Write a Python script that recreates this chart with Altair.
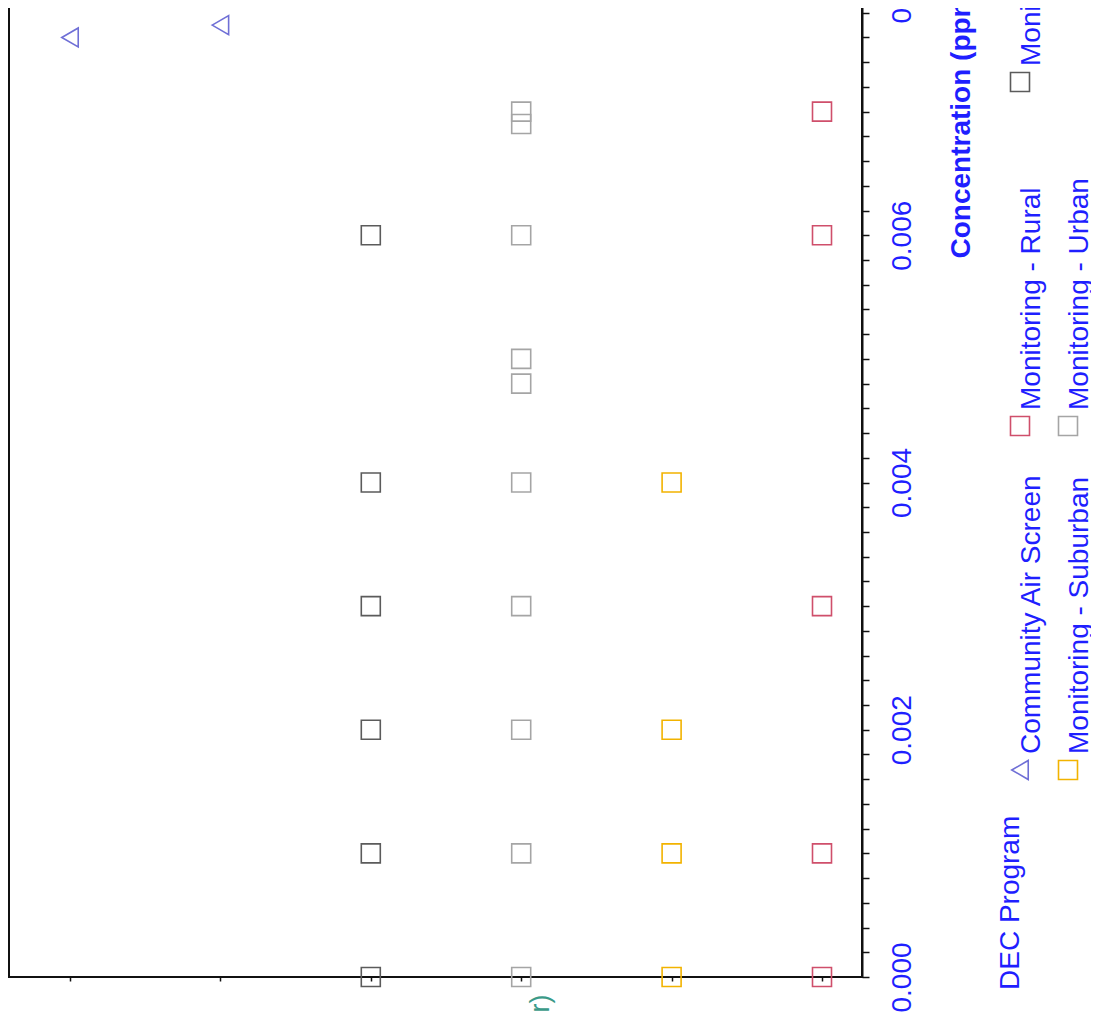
import altair as alt
import pandas as pd

# ---- data ----
sites = ["Site 1", "Site 2", "Site 3", "Site 4", "Site 5", "Site 6"]
programs = ["Community Air Screen", "Monitoring - Rural", "Monitoring - Source",
            "Monitoring - Suburban", "Monitoring - Urban"]
program_colors = ["#6f6fd6", "#cf4f6b", "#5b5b5b", "#f2b300", "#a5a5a5"]
program_shapes = ["triangle-left", "square", "square", "square", "square"]

point_site = (["Site 1", "Site 2"] + ["Site 3"] * 6 + ["Site 4"] * 10
              + ["Site 5"] * 4 + ["Site 6"] * 5)
point_program = (["Community Air Screen"] * 2 + ["Monitoring - Source"] * 6
                 + ["Monitoring - Urban"] * 10 + ["Monitoring - Suburban"] * 4
                 + ["Monitoring - Rural"] * 5)
point_conc = [0.0076, 0.0077,
              0.000, 0.001, 0.002, 0.003, 0.004, 0.006,
              0.000, 0.001, 0.002, 0.003, 0.004, 0.0048, 0.0050, 0.006, 0.0069, 0.0070,
              0.000, 0.001, 0.002, 0.004,
              0.000, 0.001, 0.003, 0.006, 0.007]

legend_title_text = ["DEC Program"]

# ---- styling ----
BLUE = "#1f1fff"
FONT = "Liberation Sans"
y_ticks = [round(i * 0.0002, 4) for i in range(41)]

df = pd.DataFrame({"site": point_site, "program": point_program, "conc": point_conc})
color_scale = alt.Scale(domain=programs, range=program_colors)
shape_scale = alt.Scale(domain=programs, range=program_shapes)

points = alt.Chart(df).mark_point(filled=False, size=361, strokeWidth=1.6, opacity=1).encode(
    x=alt.X("site:N", sort=sites,
            scale=alt.Scale(type="point", range=[61, 813], padding=0),
            axis=alt.Axis(labels=False, ticks=True, tickSize=4, tickColor="#111", tickWidth=1.5,
                          domain=False, grid=False,
                          title="Location (Site Number)", titleColor="#3a9a88", titleFontSize=27,
                          titleFontWeight="normal", titleAngle=270, titleAlign="right",
                          titleBaseline="middle", titleX=531, titleY=17)),
    y=alt.Y("conc:Q",
            scale=alt.Scale(domain=[0, 0.008], nice=False, zero=True),
            axis=alt.Axis(orient="right", values=y_ticks,
                          labelExpr="round(datum.value * 10000) % 20 == 0 ? format(datum.value, '.3f') : ''",
                          labelAngle=270, labelAlign="center", labelBaseline="top", labelPadding=19,
                          labelFontSize=28, labelColor=BLUE, labelOverlap=False, labelFlush=False,
                          tickSize=7, tickColor="#111", tickWidth=1.5,
                          domainColor="#111", domainWidth=2, grid=False,
                          title="Concentration (ppm)", titleColor=BLUE, titleFontSize=28,
                          titleFontWeight="bold", titleAngle=270, titleAlign="left",
                          titleBaseline="middle", titleX=99, titleY=270)),
    color=alt.Color("program:N", scale=color_scale, legend=None),
    shape=alt.Shape("program:N", scale=shape_scale, legend=None),
)

legend_df = pd.DataFrame({"program": programs})
legend_base = alt.Chart(legend_df).transform_window(
    idx="row_number()"
).transform_calculate(
    lcol="(datum.idx - 1) % 3", lrow="floor((datum.idx - 1) / 3)"
)
lx = alt.X("lrow:Q", scale=alt.Scale(domain=[0, 1], range=[1011, 1059], nice=False, zero=False), axis=None)
ly = alt.Y("lcol:Q", scale=alt.Scale(domain=[0, 2], range=[782, 94], nice=False, zero=False), axis=None)

legend_symbols = legend_base.mark_point(filled=False, size=361, strokeWidth=1.6, opacity=1).encode(
    x=lx, y=ly,
    color=alt.Color("program:N", scale=color_scale, legend=None),
    shape=alt.Shape("program:N", scale=shape_scale, legend=None),
)
legend_labels = legend_base.mark_text(angle=270, align="left", baseline="middle", dx=16, dy=12,
                                      fontSize=28, color=BLUE, font=FONT).encode(
    x=lx, y=ly, text="program:N"
)
legend_title = alt.Chart(pd.DataFrame({"t": legend_title_text})).mark_text(
    angle=270, align="left", baseline="middle", fontSize=28, color=BLUE, font=FONT
).encode(x=alt.value(1002), y=alt.value(1002), text="t:N")

chart = alt.layer(points, legend_symbols, legend_labels, legend_title).resolve_scale(
    x="independent", y="independent"
).properties(
    width=853, height=989,
    autosize=alt.AutoSizeParams(type="none"),
    padding={"left": 1, "top": -20, "right": 229, "bottom": 36},
).configure(font=FONT).configure_view(stroke="#111", strokeWidth=2)

chart.save("out.html", embed_options={"renderer": "svg", "actions": False})
